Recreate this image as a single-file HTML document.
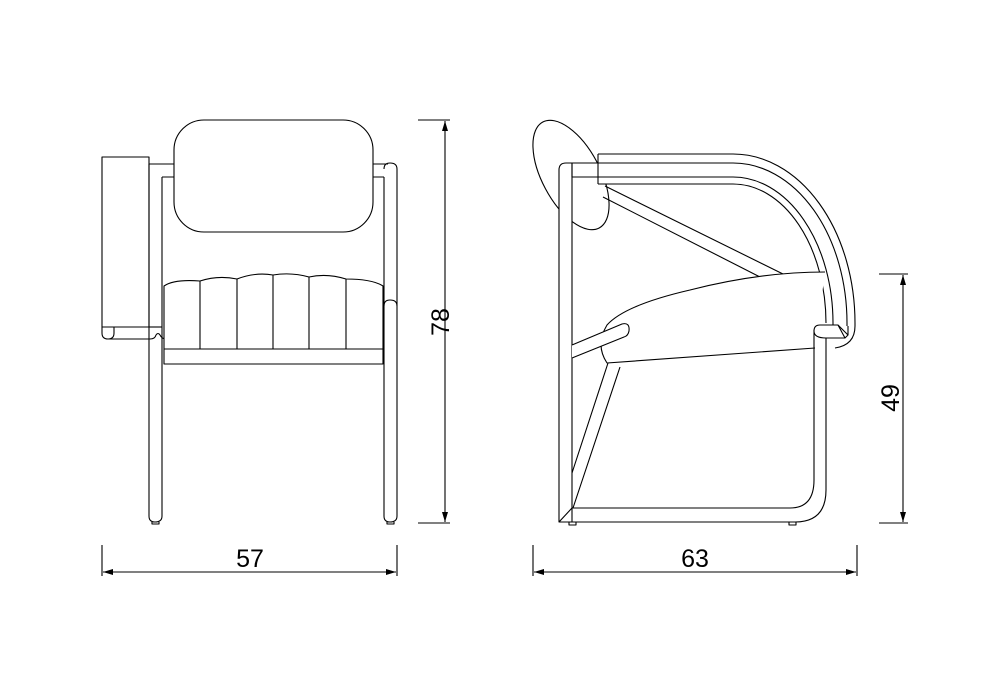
<!DOCTYPE html>
<html><head><meta charset="utf-8"><style>html,body{margin:0;padding:0;background:#fff}svg{display:block}</style></head>
<body>
<svg width="1000" height="700" viewBox="0 0 1000 700" xmlns="http://www.w3.org/2000/svg">
<defs>
<marker id="a" viewBox="0 0 10 6" refX="10" refY="3" markerWidth="10" markerHeight="6" orient="auto-start-reverse" markerUnits="userSpaceOnUse"><path d="M0,0 L10,3 L0,6 Z" fill="#000"/></marker>
</defs>
<g fill="none" stroke="#000" stroke-width="1.1" stroke-linejoin="round">
<!-- FRONT VIEW -->
<rect x="102" y="157" width="47" height="170" fill="#fff"/>
<path d="M102,327 L102,333 Q102,339 108,339 L150,339 Q155,339 156,335 Q158,332 160,335 Q162,339 166,339"/>
<path d="M114,327 L114,333 Q114,339 108,339"/>
<path d="M149,327 L162,327"/>
<path d="M149,164 L174,164 M162,177 L174,177 M373,164 L388,164 M373,177 L384,177"/>
<path d="M149,164 L149,516 Q149,522 155,522 Q162,522 162,516 L162,177"/>
<path d="M152,522 L152,524 L159,524 L159,522"/>
<path d="M384,177 L384,516 Q384,522 390,522 Q397,522 397,516 L397,169 Q397,163 390,163 Q384,163 384,169"/>
<path d="M384,306 Q384,300 390,300 Q397,300 397,306"/>
<path d="M387,522 L387,524 L394,524 L394,522"/>
<rect x="174" y="120" width="199" height="112" rx="30" ry="30" fill="#fff"/>
<path d="M164,349 L164,286 Q174,279 200,281 Q218,275 237,279 Q255,272 273,275 Q291,272 309,277 Q327,273 346,279 Q372,279 383,286 L383,349 Z" fill="#fff"/>
<path d="M200,281 L200,349 M237,279 L237,349 M273,275 L273,349 M309,277 L309,349 M346,279 L346,349"/>
<rect x="164" y="349" width="219" height="15" fill="#fff"/>

<!-- SIDE VIEW -->
<ellipse cx="571" cy="175" rx="29" ry="60" transform="rotate(-28 571 175)" fill="#fff"/>
<!-- white cover for arm bands -->
<path d="M598,154 L733,154 A122,169 0 0 1 855,323 L826,323 A93,139 0 0 0 733,184 L598,184 Z" fill="#fff" stroke="none"/>
<path d="M566,163 L600,163 L600,177 L566,177 Z" fill="#fff" stroke="none"/>
<path d="M598,154 L733,154 A122,169 0 0 1 855,323"/>
<path d="M598,184 L733,184 A93,139 0 0 1 826,323"/>
<path d="M598,154 L598,184"/>
<path d="M572,163 L733,163 A114,160 0 0 1 847,323 L847,326"/>
<path d="M572,177 L733,177 A100,146 0 0 1 833,323 L833,326"/>
<path d="M855,323 L855,326 Q855,345 835,348"/>
<path d="M605,186 L783,274 M603,197 L760,277"/>
<path d="M572,163 L566,163 Q559,163 559,170 L559,522 L572,522 L572,177 Z" fill="#fff"/>
<path d="M572,163 L572,177"/>
<path d="M825,272 Q760,272 690,290 Q625,305 607,325 Q595,345 607,363 L815,348" fill="#fff"/>
<path d="M572,345 L622,324 Q630,322 629,331 Q628,336 624,337 L572,358" fill="#fff"/>
<path d="M814,330 L814,480 Q814,508 790,508 L572,508"/>
<path d="M826,338 L826,490 Q826,522 795,522 L559,522"/>
<path d="M814,331 Q814,325 820,325 L838,325 L848,335 L845,338 L826,338 Q814,338 814,331" fill="#fff"/>
<path d="M838,325 L845,338 M848,326 L848,335"/>
<path d="M608,363 L572,473 M620,367 L573,508"/>
<path d="M559,522 L572,508"/>
<path d="M569,522 L569,525 L576,525 L576,522 M789,522 L789,525 L796,525 L796,522"/>
</g>

<g stroke="#000" stroke-width="1.1" fill="none">
<path d="M102,545 L102,576 M397,545 L397,576 M533,545 L533,576 M857,545 L857,576"/>
<path d="M103,572 L396,572" marker-start="url(#a)" marker-end="url(#a)"/>
<path d="M534,572 L856,572" marker-start="url(#a)" marker-end="url(#a)"/>
<path d="M418,120 L450,120 M418,523 L450,523 M879,274 L908,274 M879,523 L908,523"/>
<path d="M445,121 L445,522" marker-start="url(#a)" marker-end="url(#a)"/>
<path d="M903,275 L903,522" marker-start="url(#a)" marker-end="url(#a)"/>
</g>
<g font-family="Liberation Sans, sans-serif" font-size="25" fill="#000" text-anchor="middle">
<text x="250" y="567">57</text>
<text x="695" y="567">63</text>
<text transform="translate(440,322) rotate(-90)" y="9">78</text>
<text transform="translate(890,398) rotate(-90)" y="9">49</text>
</g>
</svg>
</body></html>
